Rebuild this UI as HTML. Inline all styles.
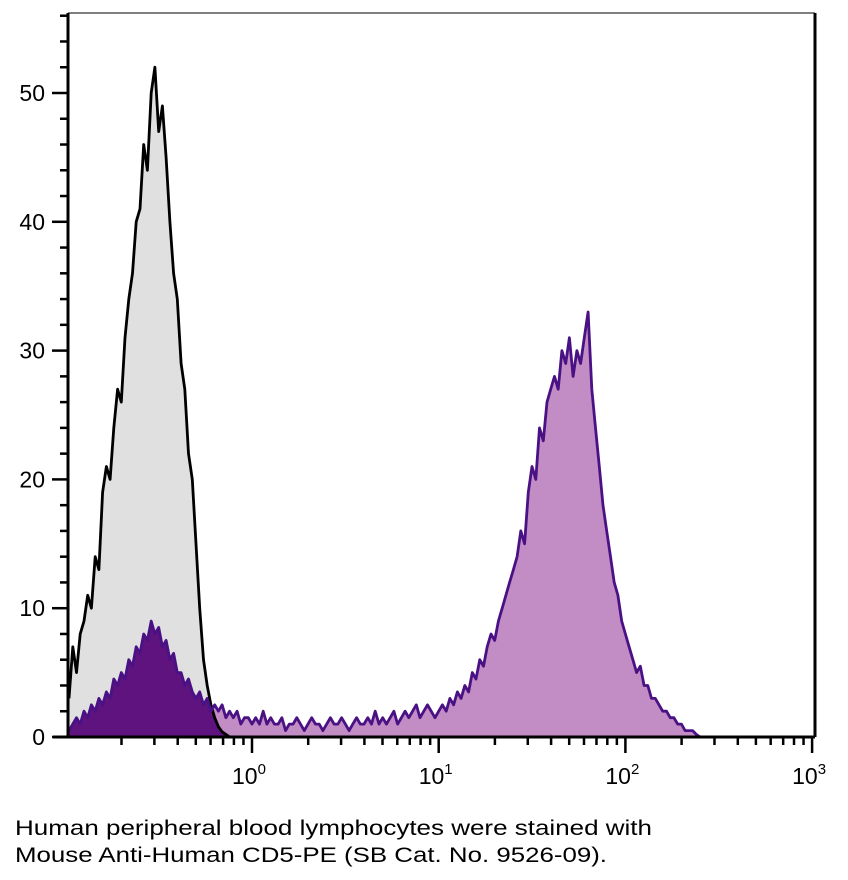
<!DOCTYPE html>
<html><head><meta charset="utf-8"><style>
body{margin:0;background:#fff;width:848px;height:880px;overflow:hidden;font-family:"Liberation Sans",sans-serif}
</style></head><body>
<svg id="chart" width="848" height="880" xmlns="http://www.w3.org/2000/svg" style="position:absolute;left:0;top:0">
<text x="15" y="835" font-size="21" textLength="637" lengthAdjust="spacingAndGlyphs" font-family="Liberation Sans, sans-serif">Human peripheral blood lymphocytes were stained with</text>
<text x="15" y="862" font-size="21" textLength="592" lengthAdjust="spacingAndGlyphs" font-family="Liberation Sans, sans-serif">Mouse Anti-Human CD5-PE (SB Cat. No. 9526-09).</text>
</svg>
<script>
const logStart = -0.98;
const binWidth = 0.02;
const controlCounts = [3,7,5,8,9,11,10,14,13,19,21,20,24,27,26,31,34,36,40,41,46,44,50,52,47,49,45,40,36,34,29,27,22,20,15,10,6,4,2.5,1.5,0.8,0.4,0.2,0];
const stainedCounts = [
0.5,1,1.5,1,2,1.5,2.5,2,3,2.5,
3.5,3,4.5,4,5,4.5,6,5.5,7,6.5,
8,7.5,9,8,8.5,7,7.5,6,6.5,5,
5,4,4.5,3.5,3,3.5,2.5,3,2,2.5,
2,2.5,1.5,2,1.5,2,1,1.5,1.5,1,
1.5,1,2,1,1.5,1,1,1.5,0.5,1,
1,1.5,1,0.5,1,1.5,1,1,0.5,1,
1.5,1,1,1.5,1,0.5,1,1.5,1,1,
1.5,1,2,1,1.5,1,1.5,2,1,1.5,
2,1.5,2,2.5,1.5,2,2.5,2,1.5,2,
2.5,2,3,2.5,3.5,3,4,3.5,5,4.5,
6,5.5,7,8,7.5,9,10,11,12,13,
14,16,15,19,21,20,24,23,26,27,
28,27,30,29,31,28,30,29,31,33,
27,24,21,18,16,14,12,11,9,8,
7,6,5,5.5,4,4,3,3,2.5,2,
2,1.5,1.5,1,1,0.5,0.5,0.5,0.2,0];
const yTicks = [0,10,20,30,40,50];
const xMajor = [0,1,2,3];

const NS='http://www.w3.org/2000/svg';
const svgEl=document.getElementById('chart');
const L=68,R=815,T=13,B=737;
const X=lg=>252+(lg)*186.7;
const Y=v=>B-v*12.88;
function mk(tag,attrs,parent){const e=document.createElementNS(NS,tag);for(const k in attrs)e.setAttribute(k,attrs[k]);(parent||svgEl).appendChild(e);return e;}
function pts(arr){let p=[[X(logStart),B]];arr.forEach((v,i)=>p.push([X(logStart+i*binWidth),Y(v)]));p.push([X(logStart+(arr.length-1)*binWidth),B]);return p;}
const cp=pts(controlCounts), sp=pts(stainedCounts);
const str=p=>p.map(a=>a[0].toFixed(1)+','+a[1].toFixed(1)).join(' ');
const defs=mk('defs',{});
const clip=mk('clipPath',{id:'ctrlclip'},defs);
mk('polygon',{points:str(cp)},clip);

const cf=mk('polygon',{points:str(cp),fill:'#e0e0e0',stroke:'none'});


const sf=mk('polygon',{points:str(sp),fill:'#c28cc4',stroke:'none'});


const sd=mk('polygon',{points:str(sp),fill:'#5e137e','clip-path':'url(#ctrlclip)'});


const cl=mk('polyline',{points:str(cp.slice(1,-1)),fill:'none',stroke:'#000','stroke-width':2.8,'stroke-linejoin':'round'});


const sl=mk('polyline',{points:str(sp.slice(1,-1)),fill:'none',stroke:'#4a1185','stroke-width':2.8,'stroke-linejoin':'round'});



const topBorder=mk('line',{x1:L,y1:T,x2:R,y2:T,stroke:'#555','stroke-width':1.5});


const rb=mk('line',{x1:R,y1:T,x2:R,y2:B,stroke:'#000','stroke-width':3});


const ya=mk('line',{x1:L,y1:T,x2:L,y2:B+1.5,stroke:'#000','stroke-width':3});


const xa=mk('line',{x1:L-15,y1:B,x2:R,y2:B,stroke:'#000','stroke-width':3});



for(let v=0;v<=56;v+=2){
  const major=v%10===0;
  const t=mk('line',{x1:major?L-16:L-8,y1:Y(v),x2:L,y2:Y(v),stroke:'#000','stroke-width':2.5});
  
  
}
yTicks.forEach(v=>{
  const t=mk('text',{x:45,y:Y(v)+8,'text-anchor':'end','font-size':23});
  t.textContent=v;
  
  
});
for(let d=-1;d<3;d++){
  for(let m=2;m<=9;m++){
    const x=X(d+Math.log10(m));
    const t=mk('line',{x1:x,y1:B,x2:x,y2:B+8,stroke:'#000','stroke-width':2.5});
    
    
  }
}
xMajor.forEach(d=>{
  const x=X(d);
  const t=mk('line',{x1:x,y1:B,x2:x,y2:B+16,stroke:'#000','stroke-width':2.5});
  
  
  const tx=mk('text',{x:x-20,y:B+47,'font-size':23});
  
  
  tx.appendChild(document.createTextNode('10'));
  const sup=mk('tspan',{dy:-10,'font-size':15},tx);
  sup.textContent=d;
});
</script>
</body></html>
